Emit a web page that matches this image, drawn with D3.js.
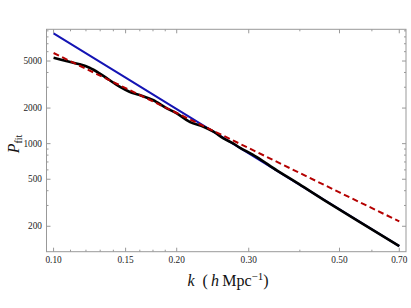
<html>
<body style="margin:0;background:#fff">
<svg width="411" height="308" class="chart"></svg>
<script src="https://d3js.org/d3.v7.min.js"></script>
<script>
    // tick values
    kTicks = [0.10, 0.15, 0.20, 0.30, 0.50, 0.70]
    kMinor = [0.11, 0.12, 0.13, 0.14, 0.1625, 0.175, 0.1875, 0.4, 0.6]
    pTicks = [200, 500, 1000, 2000, 5000]
    pMinor = [300, 400, 600, 700, 800, 900, 3000, 4000, 6000, 7000, 8000, 9000]

    // power law fits
    fitK = [0.10, 0.15, 0.20, 0.30, 0.50, 0.70]
    blueP = [8576, 3615, 1960, 826, 278, 136]
    redP = [5846, 2951, 1817, 917, 387, 220]

    // measured spectrum
    blackK = [0.100, 0.1074, 0.1158, 0.1224, 0.1295, 0.137, 0.145, 0.1533, 0.1623, 0.1749, 0.1892, 0.2001,
              0.2157, 0.2325, 0.246, 0.2602, 0.2753, 0.2858, 0.314, 0.3513, 0.393, 0.4565, 0.70]
    blackP = [5330, 5000, 4689, 4389, 3934, 3453, 3032, 2749, 2578, 2339, 1990, 1805,
              1520, 1390, 1261, 1109, 1000, 922, 768, 594, 468, 336, 136]

    var svg = d3.select(".chart")
    var pL = 46.5, pR = 406, pT = 29.3, pB = 251.7
    var x = d3.scaleLog().domain([0.0961, 0.727]).range([pL, pR])
    var y = d3.scaleLog().domain([121.9, 9275]).range([pB, pT])

    var axisCol = "#999"
    var font = "'Liberation Serif', 'Times New Roman', serif"

    // frame
    svg.append("rect").attr("x", pL).attr("y", pT)
        .attr("width", pR - pL).attr("height", pB - pT)
        .attr("fill", "none").attr("stroke", axisCol).attr("stroke-width", 1)

    // ticks, inward on all four sides
    function vt(v, len) {
        svg.append("line").attr("x1", x(v)).attr("x2", x(v)).attr("y1", pB).attr("y2", pB - len)
            .attr("stroke", axisCol)
        svg.append("line").attr("x1", x(v)).attr("x2", x(v)).attr("y1", pT).attr("y2", pT + len)
            .attr("stroke", axisCol)
    }
    function ht(v, len) {
        svg.append("line").attr("y1", y(v)).attr("y2", y(v)).attr("x1", pL).attr("x2", pL + len)
            .attr("stroke", axisCol)
        svg.append("line").attr("y1", y(v)).attr("y2", y(v)).attr("x1", pR).attr("x2", pR - len)
            .attr("stroke", axisCol)
    }
    kTicks.forEach(function(d){ vt(d, 4) })
    kMinor.forEach(function(d){ vt(d, 2) })
    pTicks.forEach(function(d){ ht(d, 4) })
    pMinor.forEach(function(d){ ht(d, 2) })

    svg.selectAll(".xl").data(kTicks).enter().append("text")
        .attr("x", function(d){ return x(d) }).attr("y", 263)
        .attr("text-anchor", "middle").attr("font-family", font).attr("font-size", 9.3)
        .attr("fill", "#222").text(function(d){ return d.toFixed(2) })
    svg.selectAll(".yl").data(pTicks).enter().append("text")
        .attr("x", 42).attr("y", function(d){ return y(d) + 3 })
        .attr("text-anchor", "end").attr("font-family", font).attr("font-size", 9.3)
        .attr("fill", "#222").text(function(d){ return d })

    // axis labels
    var xl = svg.append("text").attr("x", 228).attr("y", 286).attr("text-anchor", "middle")
        .attr("font-family", font).attr("font-size", 16).attr("fill", "#111")
    xl.append("tspan").attr("font-style", "italic").text("k")
    xl.append("tspan").text("\u2002(")
    xl.append("tspan").attr("font-style", "italic").text("\u2009h")
    xl.append("tspan").text("\u2009Mpc")
    xl.append("tspan").attr("font-size", 11).attr("dy", -6).text("\u22121")
    xl.append("tspan").attr("dy", 6).text(")")

    var yl = svg.append("text").attr("transform", "translate(19,144) rotate(-90)").attr("text-anchor", "middle")
        .attr("font-family", font).attr("font-size", 16).attr("fill", "#111")
    yl.append("tspan").attr("font-style", "italic").text("P")
    yl.append("tspan").attr("font-size", 10).attr("dy", 3).text("fit")

    var line = d3.line().x(function(d){ return x(d[0]) }).y(function(d){ return y(d[1]) })

    svg.append("path").datum(d3.zip(fitK, blueP)).attr("d", line)
        .attr("fill", "none").attr("stroke", "#1414b4").attr("stroke-width", 2)
    svg.append("path").datum(d3.zip(blackK, blackP)).attr("d", line.curve(d3.curveCatmullRom))
        .attr("fill", "none").attr("stroke", "#000").attr("stroke-width", 2.6)
    svg.append("path").datum(d3.zip(fitK, redP)).attr("d", line.curve(d3.curveLinear))
        .attr("fill", "none").attr("stroke", "#b40000").attr("stroke-width", 2)
        .attr("stroke-dasharray", "6,3.5")
</script>
</body>
</html>
